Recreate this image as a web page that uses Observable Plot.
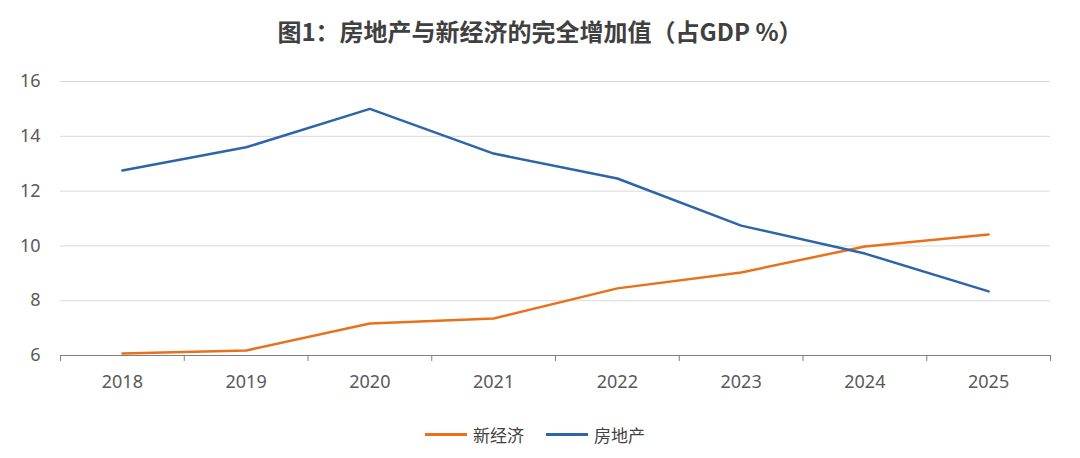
<!DOCTYPE html>
<html><head><meta charset="utf-8">
<script src="https://cdn.jsdelivr.net/npm/d3@7"></script>
<script src="https://cdn.jsdelivr.net/npm/@observablehq/plot@0.6"></script>
<style>
body{margin:0;background:#fff;font-family:"Noto Sans CJK SC","Noto Sans",sans-serif;}
#title{height:60px;line-height:62px;text-align:center;font-size:24px;font-weight:bold;color:#404040;}
#legend{display:flex;justify-content:center;gap:22px;margin-top:22px;font-size:17px;color:#404040;margin-left:-10px}
#legend span{display:flex;align-items:center;gap:6px}
#legend i{display:inline-block;width:42px;height:3px}
</style></head><body>
<div id="title">图1：房地产与新经济的完全增加值（占GDP %）</div>
<div id="chart"></div>
<div id="legend"><span><i style="background:#e9711c"></i>新经济</span><span><i style="background:#2e64a8"></i>房地产</span></div>
<script>
const years = [2018,2019,2020,2021,2022,2023,2024,2025];
const newEconomy = [6.07,6.18,7.17,7.35,8.45,9.03,9.98,10.42];
const realEstate = [12.75,13.6,15.0,13.37,12.46,10.74,9.72,8.34];
const yTicks = [6,8,10,12,14,16];
const data = years.flatMap((y,i)=>[{year:y,v:newEconomy[i],s:"新经济"},{year:y,v:realEstate[i],s:"房地产"}]);
const bounds = years.map(y=>y-0.5).concat([years[years.length-1]+0.5]);
const chart = Plot.plot({
  width:1080,height:340,marginLeft:60,marginRight:30,marginTop:21,marginBottom:45,
  style:{fontFamily:"'Noto Sans', sans-serif",fontSize:"18px",color:"#595959",background:"#fff"},
  x:{domain:[2017.5,2025.5],ticks:years,tickFormat:d=>String(d),tickSize:0,tickPadding:20,label:null},
  y:{domain:[6,16],ticks:yTicks,tickSize:0,tickPadding:20,label:null},
  color:{domain:["新经济","房地产"],range:["#e9711c","#2e64a8"]},
  marks:[
    Plot.gridY(yTicks.filter(t=>t>6),{stroke:"#d9d9d9",strokeOpacity:1}),
    Plot.ruleY([6],{stroke:"#7f7f7f"}),
    Plot.ruleX(bounds,{y1:6,y2:5.78,stroke:"#7f7f7f"}),
    Plot.line(data,{x:"year",y:"v",z:"s",stroke:"s",strokeWidth:2.5})
  ]
});
document.getElementById("chart").appendChild(chart);
</script></body></html>
